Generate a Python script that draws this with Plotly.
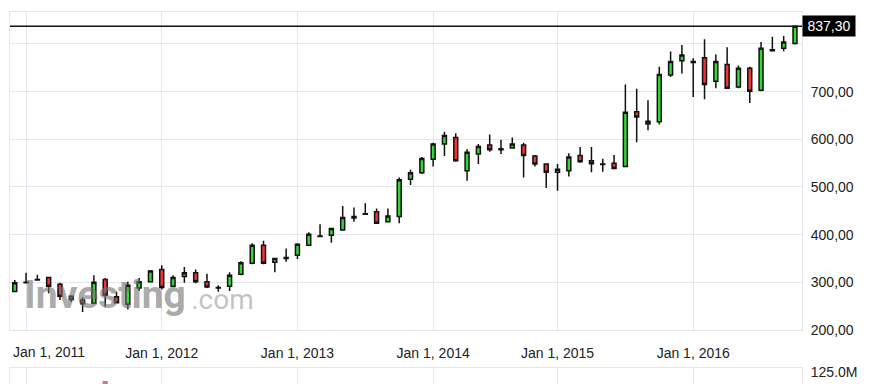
import plotly.graph_objects as go

# ---------------- data ----------------
months = [
    "2010-12",
    "2011-01", "2011-02", "2011-03", "2011-04", "2011-05", "2011-06",
    "2011-07", "2011-08", "2011-09", "2011-10", "2011-11", "2011-12",
    "2012-01", "2012-02", "2012-03", "2012-04", "2012-05", "2012-06",
    "2012-07", "2012-08", "2012-09", "2012-10", "2012-11", "2012-12",
    "2013-01", "2013-02", "2013-03", "2013-04", "2013-05", "2013-06",
    "2013-07", "2013-08", "2013-09", "2013-10", "2013-11", "2013-12",
    "2014-01", "2014-02", "2014-03", "2014-05", "2014-06",
    "2014-07", "2014-08", "2014-09", "2014-10", "2014-11", "2014-12",
    "2015-01", "2015-02", "2015-03", "2015-04", "2015-05", "2015-06",
    "2015-07", "2015-08", "2015-09", "2015-10", "2015-11", "2015-12",
    "2016-01", "2016-02", "2016-03", "2016-04", "2016-05", "2016-06",
    "2016-07", "2016-08", "2016-09", "2016-10",
]

open_ = [281,
         299, 305, 310, 296, 271, 263, 256, 306, 270, 254, 288, 301,
         327, 292, 312, 320, 301, 288, 292, 317, 340, 378, 342, 350,
         357, 378, 396, 399, 410, 435, 443, 448, 427, 438, 516, 530,
         558, 590, 604, 534, 569, 588, 578, 582, 588, 565, 548,
         531, 534, 566, 555, 547, 550, 543, 658, 632, 637, 735, 765,
         763, 771, 722, 757, 710, 749, 703, 786, 791, 801]
high = [305,
        320, 316, 311, 299, 273, 268, 315, 309, 280, 301, 309, 326,
        336, 315, 332, 327, 318, 294, 321, 344, 382, 387, 351, 371,
        382, 405, 422, 414, 460, 457, 466, 455, 455, 520, 536, 563,
        593, 616, 613, 579, 590, 610, 599, 604, 593, 567, 550,
        548, 571, 584, 584, 559, 567, 715, 706, 682, 752, 784, 798,
        770, 810, 778, 793, 755, 752, 804, 815, 817, 839]
low = [280,
       298, 304, 277, 263, 259, 238, 254, 249, 256, 243, 282, 300,
       285, 290, 299, 298, 288, 280, 282, 315, 338, 338, 321, 343,
       349, 378, 395, 383, 409, 427, 442, 424, 427, 424, 504, 527,
       543, 565, 553, 513, 548, 574, 569, 580, 520, 543, 498,
       492, 522, 551, 531, 532, 539, 542, 594, 619, 631, 731, 738,
       689, 684, 707, 706, 707, 676, 701, 785, 785, 799]
close = [299,
         300, 306, 292, 271, 264, 255, 300, 273, 257, 294, 301, 324,
         289, 310, 320, 301, 290, 289, 315, 341, 378, 340, 350, 352,
         380, 401, 397, 413, 436, 438, 444, 424, 439, 515, 530, 560,
         590, 608, 555, 573, 585, 578, 580, 590, 566, 548, 531,
         537, 563, 553, 549, 548, 539, 657, 647, 638, 736, 763, 777,
         761, 715, 763, 707, 749, 701, 791, 788, 804, 837.30]

# volume: only one bar reaches the visible top strip of the volume pane
volume_months = ["2011-08"]
volume_values = [116e6]

tick_months = ["2011-01", "2012-01", "2013-01", "2014-01", "2015-01", "2016-01"]
tick_labels = ["Jan 1, 2011", "Jan 1, 2012", "Jan 1, 2013",
               "Jan 1, 2014", "Jan 1, 2015", "Jan 1, 2016"]

price_ticks = [200, 300, 400, 500, 600, 700, 800]
price_tick_labels = ["200,00", "300,00", "400,00", "500,00", "600,00", "700,00", ""]

volume_ticks = [125e6]
volume_tick_labels = ["125.0M"]

last_price = close[-1]
last_price_label = "837,30"

# ---------------- styling ----------------
FONT = "Liberation Sans, Arial, sans-serif"
GRID = "#e4e7ee"
GREEN = "#33d933"
RED = "#f23434"
OUTLINE = "#111111"
TXT = "#222222"

x_idx = list(range(len(months)))
tickvals = [months.index(m) for m in tick_months]
vol_x = [months.index(m) for m in volume_months]

fig = go.Figure()

# watermark (drawn first, below the candles)
fig.add_trace(go.Scatter(
    x=[0.85], y=[267], mode="text", text=["<b>Investing</b>"],
    textposition="middle right",
    textfont=dict(family="Roboto, Liberation Sans, Arial, sans-serif",
                  size=39, color="rgba(115,115,115,0.62)"),
    hoverinfo="skip", showlegend=False, xaxis="x", yaxis="y"))
fig.add_trace(go.Scatter(
    x=[15.6], y=[259], mode="text", text=[".com"],
    textposition="middle right",
    textfont=dict(family="Roboto, Liberation Sans, Arial, sans-serif",
                  size=28, color="rgba(135,135,135,0.5)"),
    hoverinfo="skip", showlegend=False, xaxis="x", yaxis="y"))

fig.add_trace(go.Candlestick(
    x=x_idx, open=open_, high=high, low=low, close=close,
    increasing=dict(line=dict(color=OUTLINE, width=1.5), fillcolor=GREEN),
    decreasing=dict(line=dict(color=OUTLINE, width=1.5), fillcolor=RED),
    whiskerwidth=0, showlegend=False, xaxis="x", yaxis="y"))

fig.add_trace(go.Bar(
    x=vol_x, y=volume_values, width=0.45,
    marker=dict(color="rgba(214,90,90,0.85)", line=dict(width=0)),
    showlegend=False, xaxis="x2", yaxis="y2"))

common_x = dict(
    range=[-0.42, 69.62], tickmode="array", tickvals=tickvals,
    showgrid=True, gridcolor=GRID, gridwidth=1.3, zeroline=False,
    showline=True, mirror=True, linecolor=GRID, linewidth=1,
    fixedrange=True, automargin=False)

fig.update_layout(
    width=861, height=376,
    margin=dict(l=2, r=67, t=4, b=0, autoexpand=False),
    paper_bgcolor="white", plot_bgcolor="white",
    font=dict(family=FONT, size=14, color=TXT),
    boxgap=0.5,
    xaxis=dict(**common_x, domain=[0, 1], anchor="y",
               ticktext=[""] + tick_labels[1:],
               ticks="outside", ticklen=10, tickcolor="rgba(0,0,0,0)",
               tickfont=dict(size=14, color=TXT),
               rangeslider=dict(visible=False)),
    yaxis=dict(domain=[54 / 372, 1], range=[200, 867.1], side="right",
               tickmode="array", tickvals=price_ticks, ticktext=price_tick_labels,
               ticks="outside", ticklen=5, tickcolor="rgba(0,0,0,0)",
               tickfont=dict(size=14, color=TXT),
               showgrid=True, gridcolor=GRID, gridwidth=1.3, zeroline=False,
               showline=True, mirror=True, linecolor=GRID, linewidth=1,
               anchor="x", fixedrange=True, automargin=False),
    xaxis2=dict(**common_x, domain=[0, 1], anchor="y2", matches="x",
                showticklabels=False, ticks=""),
    yaxis2=dict(domain=[0, 16 / 372], range=[113e6, 129e6], side="right",
                tickmode="array", tickvals=volume_ticks, ticktext=volume_tick_labels,
                ticks="outside", ticklen=5, tickcolor="rgba(0,0,0,0)",
                tickfont=dict(size=14, color=TXT),
                showgrid=False, zeroline=False,
                showline=True, mirror=True, linecolor=GRID, linewidth=1,
                anchor="x2", fixedrange=True, automargin=False),
    shapes=[dict(type="line", xref="paper", yref="y", x0=0, x1=1,
                 y0=last_price, y1=last_price,
                 line=dict(color="#111111", width=1.6))],
    annotations=[
        dict(xref="paper", yref="y", x=1, y=last_price, xanchor="left",
             yanchor="middle", text=last_price_label, showarrow=False,
             bgcolor="black", font=dict(color="white", size=14, family=FONT),
             width=50, height=18, borderpad=1, align="center"),
        dict(xref="paper", yref="paper", x=1 / 792, y=32 / 372,
             xanchor="left", yanchor="middle", text=tick_labels[0],
             showarrow=False, font=dict(size=14, color=TXT, family=FONT)),
    ],
)

fig.write_html("out.html")
